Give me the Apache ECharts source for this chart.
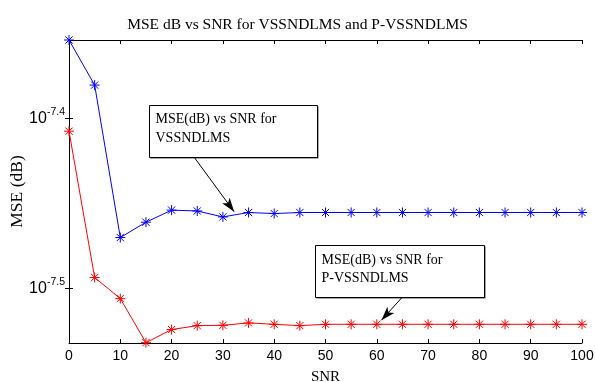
<!DOCTYPE html>
<html><head><meta charset="utf-8">
<script src="https://cdn.jsdelivr.net/npm/echarts@6/dist/echarts.min.js"></script>
<style>html,body{margin:0;padding:0;background:#fff}#c{width:595px;height:382px}</style>
</head><body><div id="c"></div>
<script>
// SNR values (x)
var snr = [0,5,10,15,20,25,30,35,40,45,50,55,60,65,70,75,80,85,90,95,100];
// MSE shown on log axis: values are log10(MSE)
var vssndlmsLog = [-7.3539,-7.3804,-7.4700,-7.4610,-7.4539,-7.4544,-7.4579,-7.4553,-7.4559,-7.4553,-7.4553,-7.4553,-7.4553,-7.4553,-7.4553,-7.4553,-7.4553,-7.4553,-7.4553,-7.4553,-7.4553];
var pvssndlmsLog = [-7.4075,-7.4935,-7.5059,-7.5318,-7.5241,-7.5218,-7.5216,-7.5202,-7.5210,-7.5218,-7.5210,-7.5210,-7.5210,-7.5210,-7.5210,-7.5210,-7.5210,-7.5210,-7.5210,-7.5210,-7.5210];
var yTickExps = [-7.5, -7.4];
var xTicks = [0,10,20,30,40,50,60,70,80,90,100];
var titleText = 'MSE dB vs SNR for VSSNDLMS and P-VSSNDLMS';
var xName = 'SNR';
var yName = 'MSE (dB)';
var note1 = ['MSE(dB) vs SNR for', 'VSSNDLMS'];
var note2 = ['MSE(dB) vs SNR for', 'P-VSSNDLMS'];
// arrow tail/tip in data coordinates
var arrow1 = [[24.4,-7.4228],[32.2,-7.4549]];
var arrow2 = [[64.9,-7.5053],[60.9,-7.5186]];

var serif = '"Liberation Serif","Times New Roman",serif';
var sans = '"Liberation Sans",Arial,sans-serif';
var star = 'path://M0,-5L0,5M-5,0L5,0M-3.6,-3.6L3.6,3.6M-3.6,3.6L3.6,-3.6';

function pairs(ys){ return snr.map(function(x,i){ return [x, ys[i]]; }); }

var chart = echarts.init(document.getElementById('c'), null, {renderer:'canvas'});
var yMin = -7.532, yMax = -7.3539;
chart.setOption({
  animation:false,
  backgroundColor:'#fff',
  title:{text:titleText,left:'center',top:12,textStyle:{fontFamily:serif,fontSize:15.5,fontWeight:'normal',color:'#000'}},
  grid:{left:69,right:13,top:40,bottom:39,containLabel:false,outerBoundsMode:'none'},
  xAxis:[{
    type:'value',min:0,max:100,interval:10,position:'bottom',
    name:xName,nameLocation:'middle',nameGap:27,nameMoveOverlap:false,
    nameTextStyle:{fontFamily:serif,fontSize:15,color:'#000'},
    axisLine:{lineStyle:{color:'#000',width:1}},
    axisTick:{inside:true,length:4,lineStyle:{color:'#000'}},
    axisLabel:{fontFamily:sans,fontSize:14,color:'#000',margin:6},
    splitLine:{show:false}
  },{
    type:'value',min:0,max:100,interval:10,position:'top',
    axisLine:{lineStyle:{color:'#000',width:1}},
    axisTick:{inside:true,length:4,lineStyle:{color:'#000'}},
    axisLabel:{show:false},splitLine:{show:false}
  }],
  yAxis:[{
    type:'value',min:yMin,max:yMax,position:'left',
    name:yName,nameLocation:'middle',nameGap:43,nameRotate:90,nameMoveOverlap:false,
    nameTextStyle:{fontFamily:serif,fontSize:17.5,color:'#000'},
    axisLine:{lineStyle:{color:'#000',width:1}},
    axisTick:{inside:true,length:4,lineStyle:{color:'#000'},customValues:yTickExps},
    axisLabel:{customValues:yTickExps,margin:4,
      formatter:function(v){ return '{b|10}{s|' + v.toFixed(1) + '}'; },
      rich:{b:{fontFamily:sans,fontSize:16,color:'#000'},s:{fontFamily:sans,fontSize:10.5,color:'#000',padding:[0,0,13,0]}}},
    splitLine:{show:false}
  },{
    type:'value',min:yMin,max:yMax,position:'right',
    axisLine:{lineStyle:{color:'#000',width:1}},
    axisTick:{inside:true,length:4,lineStyle:{color:'#000'},customValues:yTickExps},
    axisLabel:{show:false},splitLine:{show:false}
  }],
  series:[{
    name:'VSSNDLMS',type:'line',data:pairs(vssndlmsLog),
    symbol:star,symbolSize:10,showAllSymbol:true,
    lineStyle:{color:'#0000ff',width:1},
    itemStyle:{color:'#0000ff',borderColor:'#0000ff',borderWidth:1},
    markLine:{silent:true,symbol:['none','arrow'],symbolSize:[7,14],label:{show:false},
      lineStyle:{color:'#000',width:1,type:'solid'},
      data:[[{coord:arrow1[0]},{coord:arrow1[1]}]]}
  },{
    name:'P-VSSNDLMS',type:'line',data:pairs(pvssndlmsLog),
    symbol:star,symbolSize:10,showAllSymbol:true,
    lineStyle:{color:'#ff0000',width:1},
    itemStyle:{color:'#ff0000',borderColor:'#ff0000',borderWidth:1},
    markLine:{silent:true,symbol:['none','arrow'],symbolSize:[7,14],label:{show:false},
      lineStyle:{color:'#000',width:1,type:'solid'},
      data:[[{coord:arrow2[0]},{coord:arrow2[1]}]]}
  }]
});

function box(x,y,w,h,lines,ty,lh){
  return {type:'group',left:x,top:y,children:[
    {type:'rect',shape:{x:1,y:1,width:w,height:h},style:{fill:'#555',stroke:null}},
    {type:'rect',shape:{x:0,y:0,width:w,height:h},style:{fill:'#fff',stroke:'#000',lineWidth:1}},
    {type:'text',x:6,y:ty,style:{text:lines.join('\n'),font:'14px '+serif,fill:'#000',lineHeight:lh}}
  ]};
}
chart.setOption({graphic:[box(149,105,168,52,note1,4,19),box(315,245,169,52,note2,6,18)]});
</script></body></html>
